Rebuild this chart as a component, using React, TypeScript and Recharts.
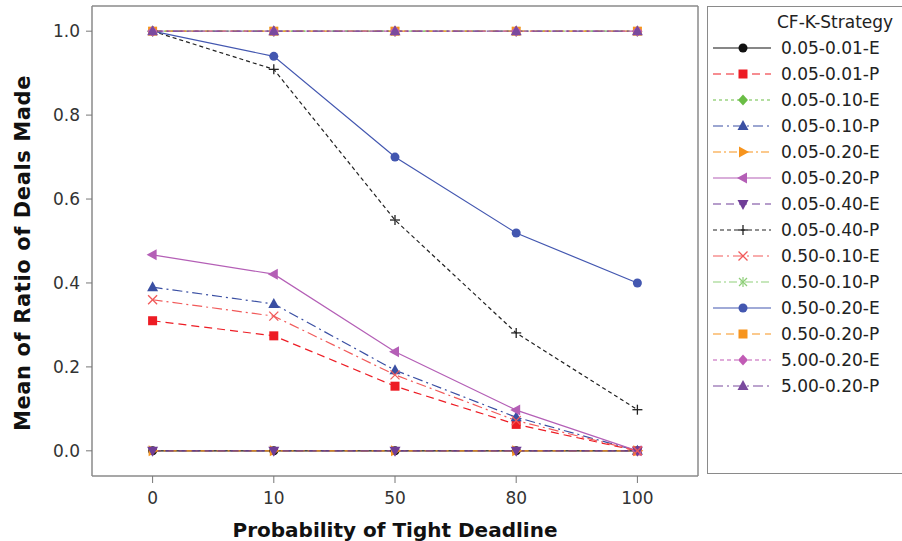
import React from 'react';
import { LineChart, Line, XAxis, YAxis, CartesianGrid } from 'recharts';

const deadlines = ['0', '10', '50', '80', '100'];
const yTicks = [0, 0.2, 0.4, 0.6, 0.8, 1.0];

const strategyNames = [
  '0.05-0.01-E', '0.05-0.01-P', '0.05-0.10-E', '0.05-0.10-P', '0.05-0.20-E',
  '0.05-0.20-P', '0.05-0.40-E', '0.05-0.40-P', '0.50-0.10-E', '0.50-0.10-P',
  '0.50-0.20-E', '0.50-0.20-P', '5.00-0.20-E', '5.00-0.20-P',
];

const v005_001_E = [0, 0, 0, 0, 0];
const v005_001_P = [0.31, 0.274, 0.154, 0.063, 0];
const v005_010_E = [1, 1, 1, 1, 1];
const v005_010_P = [0.39, 0.35, 0.192, 0.08, 0];
const v005_020_E = [0, 0, 0, 0, 0];
const v005_020_P = [0.467, 0.421, 0.236, 0.097, 0];
const v005_040_E = [0, 0, 0, 0, 0];
const v005_040_P = [1, 0.909, 0.55, 0.281, 0.098];
const v050_010_E = [0.36, 0.321, 0.181, 0.072, 0];
const v050_010_P = [1, 1, 1, 1, 1];
const v050_020_E = [1, 0.94, 0.7, 0.519, 0.4];
const v050_020_P = [1, 1, 1, 1, 1];
const v500_020_E = [1, 1, 1, 1, 1];
const v500_020_P = [1, 1, 1, 1, 1];

const seriesValues = [
  v005_001_E, v005_001_P, v005_010_E, v005_010_P, v005_020_E, v005_020_P, v005_040_E,
  v005_040_P, v050_010_E, v050_010_P, v050_020_E, v050_020_P, v500_020_E, v500_020_P,
];

type Shape = 'circle' | 'square' | 'diamond' | 'triUp' | 'triRight' | 'triLeft' | 'triDown' | 'plus' | 'cross' | 'star';

// visual style per series (minitab-ish defaults)
const styles: { color: string; dash?: string; shape: Shape }[] = [
  { color: '#111111', shape: 'circle' },
  { color: '#ed1c24', dash: '8 5', shape: 'square' },
  { color: '#6abd45', dash: '3 3', shape: 'diamond' },
  { color: '#3a4fa3', dash: '10 4 2 4', shape: 'triUp' },
  { color: '#f7941d', dash: '8 3 2 3', shape: 'triRight' },
  { color: '#b45fb6', shape: 'triLeft' },
  { color: '#6f3d97', dash: '8 5', shape: 'triDown' },
  { color: '#222222', dash: '4 3', shape: 'plus' },
  { color: '#f15a5a', dash: '10 4 2 4', shape: 'cross' },
  { color: '#8fcf7a', dash: '8 3 2 3', shape: 'star' },
  { color: '#4357b0', shape: 'circle' },
  { color: '#f7941d', dash: '8 5', shape: 'square' },
  { color: '#c15bb5', dash: '4 3', shape: 'diamond' },
  { color: '#7a4a9e', dash: '10 4 2 4', shape: 'triUp' },
];

const data = deadlines.map((d, i) => {
  const row: Record<string, string | number> = { deadline: d };
  seriesValues.forEach((vals, s) => {
    row['s' + s] = vals[i];
  });
  return row;
});

const FONT = '"DejaVu Sans", Verdana, sans-serif';

function Marker({ shape, cx, cy, color }: { shape: Shape; cx: number; cy: number; color: string }) {
  switch (shape) {
    case 'circle':
      return <circle cx={cx} cy={cy} r={4.5} fill={color} />;
    case 'square':
      return <rect x={cx - 4.5} y={cy - 4.5} width={9} height={9} fill={color} />;
    case 'diamond':
      return <polygon points={`${cx},${cy - 5.5} ${cx + 5},${cy} ${cx},${cy + 5.5} ${cx - 5},${cy}`} fill={color} />;
    case 'triUp':
      return <polygon points={`${cx},${cy - 6} ${cx + 5.5},${cy + 4} ${cx - 5.5},${cy + 4}`} fill={color} />;
    case 'triDown':
      return <polygon points={`${cx},${cy + 6} ${cx + 5.5},${cy - 4} ${cx - 5.5},${cy - 4}`} fill={color} />;
    case 'triRight':
      return <polygon points={`${cx + 6},${cy} ${cx - 4},${cy - 5.5} ${cx - 4},${cy + 5.5}`} fill={color} />;
    case 'triLeft':
      return <polygon points={`${cx - 6},${cy} ${cx + 4},${cy - 5.5} ${cx + 4},${cy + 5.5}`} fill={color} />;
    case 'plus':
      return (
        <g stroke={color} strokeWidth={1.3}>
          <line x1={cx - 5} y1={cy} x2={cx + 5} y2={cy} />
          <line x1={cx} y1={cy - 5} x2={cx} y2={cy + 5} />
        </g>
      );
    case 'cross':
      return (
        <g stroke={color} strokeWidth={1.3}>
          <line x1={cx - 4.5} y1={cy - 4.5} x2={cx + 4.5} y2={cy + 4.5} />
          <line x1={cx - 4.5} y1={cy + 4.5} x2={cx + 4.5} y2={cy - 4.5} />
        </g>
      );
    case 'star':
      return (
        <g stroke={color} strokeWidth={1.2}>
          <line x1={cx - 4} y1={cy - 4} x2={cx + 4} y2={cy + 4} />
          <line x1={cx - 4} y1={cy + 4} x2={cx + 4} y2={cy - 4} />
          <line x1={cx} y1={cy - 5} x2={cx} y2={cy + 5} />
        </g>
      );
  }
  return null;
}

function LegendBox() {
  return (
    <div
      style={{
        position: 'absolute',
        left: 707,
        top: 6,
        width: 195,
        height: 468,
        boxSizing: 'border-box',
        border: '1.5px solid #8a8a8a',
        borderRight: 'none',
        background: '#fff',
      }}
    >
      <svg width={195} height={466} style={{ display: 'block' }}>
        <text x={69} y={15} dominantBaseline="central" fontFamily={FONT} fontSize={17} fill="#222">
          CF-K-Strategy
        </text>
        {strategyNames.map((name, i) => {
          const y = 41 + i * 26;
          const st = styles[i];
          return (
            <g key={name}>
              <line x1={5} y1={y} x2={63} y2={y} stroke={st.color} strokeWidth={1.2} strokeDasharray={st.dash} />
              <Marker shape={st.shape} cx={35} cy={y} color={st.color} />
              <text x={73} y={y} dominantBaseline="central" fontFamily={FONT} fontSize={17} fill="#222">
                {name}
              </text>
            </g>
          );
        })}
      </svg>
    </div>
  );
}

const yLabel = () => (
  <text
    x={23}
    y={253}
    transform="rotate(-90 23 253)"
    textAnchor="middle"
    dominantBaseline="central"
    fontFamily={FONT}
    fontSize={21}
    fontWeight="bold"
    letterSpacing={0.6}
    fill="#111"
  >
    Mean of Ratio of Deals Made
  </text>
);

export default function App() {
  return (
    <div style={{ position: 'absolute', left: 0, top: 0, width: 902, height: 541, background: '#fff', overflow: 'hidden' }}>
      <LineChart width={902} height={541} data={data} margin={{ top: 6, right: 204, bottom: 0, left: 0 }}>
        {/* plot frame */}
        <CartesianGrid
          stroke="#8a8a8a"
          strokeWidth={1.5}
          horizontalCoordinatesGenerator={({ offset }: any) => [offset.top, offset.top + offset.height]}
          verticalCoordinatesGenerator={({ offset }: any) => [offset.left, offset.left + offset.width]}
        />
        <XAxis
          dataKey="deadline"
          height={65}
          padding={{ left: 60.6, right: 60.6 }}
          axisLine={false}
          tickLine={{ stroke: '#777' }}
          tickSize={7}
          tickMargin={9}
          tick={{ fill: '#333', fontSize: 17, fontFamily: FONT }}
          label={{
            value: 'Probability of Tight Deadline',
            position: 'insideBottom',
            offset: 4,
            style: { fontFamily: FONT, fontSize: 20, fontWeight: 'bold', fill: '#111' },
          }}
        />
        <YAxis
          width={92}
          type="number"
          domain={[-0.06, 1.06]}
          ticks={yTicks}
          allowDataOverflow
          axisLine={false}
          tickLine={{ stroke: '#777' }}
          tickSize={6}
          tickMargin={6}
          tickFormatter={(v: number) => v.toFixed(1)}
          tick={{ fill: '#333', fontSize: 17, fontFamily: FONT }}
          label={yLabel}
        />
        {strategyNames.map((name, s) => {
          const st = styles[s];
          return (
            <Line
              key={name}
              name={name}
              dataKey={'s' + s}
              type="linear"
              stroke={st.color}
              strokeWidth={1.2}
              strokeDasharray={st.dash}
              isAnimationActive={false}
              activeDot={false}
              dot={(p: any) => (
                <Marker key={`${name}-${p.index}`} shape={st.shape} cx={p.cx} cy={p.cy} color={st.color} />
              )}
            />
          );
        })}
      </LineChart>
      <LegendBox />
    </div>
  );
}
